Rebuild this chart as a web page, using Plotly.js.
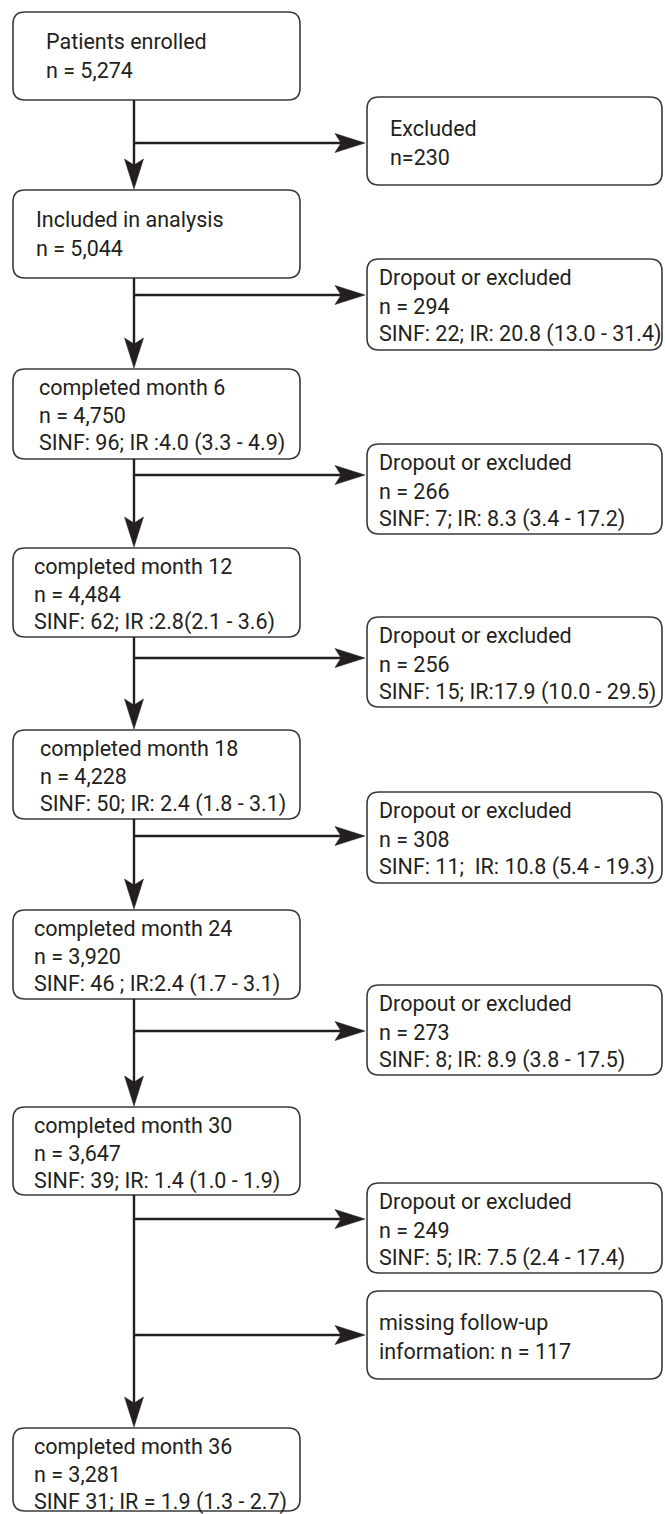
<!DOCTYPE html>
<html>
<head>
<meta charset="utf-8">
<script src="https://cdn.plot.ly/plotly-3.0.1.min.js"></script>
<style>
  html, body { margin: 0; padding: 0; background: #ffffff; }
  #chart { width: 665px; height: 1514px; }
</style>
</head>
<body>
<div id="chart"></div>
<script>
// ---------- data (texts) ----------
const stageLabels = ["Patients enrolled", "Included in analysis", "completed month 6", "completed month 12",
  "completed month 18", "completed month 24", "completed month 30", "completed month 36"];
const stageN = ["n = 5,274", "n = 5,044", "n = 4,750", "n = 4,484", "n = 4,228", "n = 3,920", "n = 3,647", "n = 3,281"];
const stageIR = ["", "", "SINF: 96; IR :4.0 (3.3 - 4.9)", "SINF: 62; IR :2.8(2.1 - 3.6)",
  "SINF: 50; IR: 2.4 (1.8 - 3.1)", "SINF: 46 ; IR:2.4 (1.7 - 3.1)", "SINF: 39; IR: 1.4 (1.0 - 1.9)",
  "SINF 31; IR = 1.9 (1.3 - 2.7)"];

const sideLabels = ["Excluded", "Dropout or excluded", "Dropout or excluded", "Dropout or excluded",
  "Dropout or excluded", "Dropout or excluded", "Dropout or excluded", "missing follow-up"];
const sideN = ["n=230", "n = 294", "n = 266", "n = 256", "n = 308", "n = 273", "n = 249", "information: n = 117"];
const sideIR = ["", "SINF: 22; IR: 20.8 (13.0 - 31.4)", "SINF: 7; IR: 8.3 (3.4 - 17.2)",
  "SINF: 15; IR:17.9 (10.0 - 29.5)", "SINF: 11;\u00a0 IR: 10.8 (5.4 - 19.3)", "SINF: 8; IR: 8.9 (3.8 - 17.5)",
  "SINF: 5; IR: 7.5 (2.4 - 17.4)", ""];
const sideFrom = [0, 1, 2, 3, 4, 5, 6, 6];   // which main box each side branch leaves from

// ---------- geometry (page pixels, y downward) ----------
const G = {
  W: 665, H: 1514,
  leftX0: 13, leftX1: 300, spineX: 134,
  rightX0: 367, rightX1: 662,
  radius: 12,
  leftTop:    [12, 190, 369, 548, 730, 910, 1107, 1428],
  leftBottom: [100, 278, 459, 637, 819, 999, 1195, 1511],
  leftTextX:  [44, 34, 37, 32, 38, 32, 32, 32],
  rightTop:    [97, 259, 444, 617, 792, 985, 1183, 1291],
  rightBottom: [185, 350, 534, 707, 883, 1075, 1273, 1379],
  rightTextX:  [388, 377, 377, 377, 377, 377, 377, 377],
  arrowY:      [143, 295, 475, 658, 836, 1031, 1219, 1335],
  leftTwoOff: [29, 58], leftThreeOff: [18, 46, 74],
  rightTwoOff: [31, 60], rightThreeOff: [18, 47, 75],
  headLen: 30, headHalf: 9.5, headNotch: 6
};
const INK = "#231f20";
const BORDER = "#3a3a3a";
const FONT = { family: "Roboto, 'Open Sans', sans-serif", size: 21.5, color: INK };

function roundRect(x0, y0, x1, y1, r) {
  return `M${x0 + r},${y0} L${x1 - r},${y0} Q${x1},${y0} ${x1},${y0 + r} L${x1},${y1 - r} Q${x1},${y1} ${x1 - r},${y1} ` +
         `L${x0 + r},${y1} Q${x0},${y1} ${x0},${y1 - r} L${x0},${y0 + r} Q${x0},${y0} ${x0 + r},${y0} Z`;
}
function headDown(x, tipY) {
  const L = G.headLen, h = G.headHalf, n = G.headNotch;
  return `M${x},${tipY} L${x - h},${tipY - L} L${x},${tipY - L + n} L${x + h},${tipY - L} Z`;
}
function headRight(tipX, y) {
  const L = G.headLen, h = G.headHalf, n = G.headNotch;
  return `M${tipX},${y} L${tipX - L},${y - h} L${tipX - L + n},${y} L${tipX - L},${y + h} Z`;
}

const shapes = [];
const annotations = [];
function addText(x, y, txt) {
  annotations.push({ x: x, y: y, xref: "x", yref: "y", text: txt, showarrow: false,
    xanchor: "left", yanchor: "middle", font: FONT });
}

// main boxes
stageLabels.forEach((lab, i) => {
  const y0 = G.leftTop[i], y1 = G.leftBottom[i];
  shapes.push({ type: "path", path: roundRect(G.leftX0, y0, G.leftX1, y1, G.radius),
    line: { color: BORDER, width: 1.6 }, fillcolor: "rgba(0,0,0,0)" });
  const lines = [lab, stageN[i]];
  if (stageIR[i]) lines.push(stageIR[i]);
  const offs = lines.length === 3 ? G.leftThreeOff : G.leftTwoOff;
  lines.forEach((t, k) => addText(G.leftTextX[i], y0 + offs[k], t));
  if (i < stageLabels.length - 1) {
    const tip = G.leftTop[i + 1] - 1;
    shapes.push({ type: "line", x0: G.spineX, x1: G.spineX, y0: y1, y1: tip - G.headLen + G.headNotch + 1,
      line: { color: INK, width: 2.4 } });
    shapes.push({ type: "path", path: headDown(G.spineX, tip), line: { color: INK, width: 0.5 }, fillcolor: INK });
  }
});

// side boxes
sideLabels.forEach((lab, j) => {
  const y0 = G.rightTop[j], y1 = G.rightBottom[j];
  shapes.push({ type: "path", path: roundRect(G.rightX0, y0, G.rightX1, y1, G.radius),
    line: { color: BORDER, width: 1.6 }, fillcolor: "rgba(0,0,0,0)" });
  const lines = [lab, sideN[j]];
  if (sideIR[j]) lines.push(sideIR[j]);
  const offs = lines.length === 3 ? G.rightThreeOff : G.rightTwoOff;
  lines.forEach((t, k) => addText(G.rightTextX[j], y0 + offs[k], t));
  const ay = G.arrowY[j];
  const tipX = G.rightX0 - 2;
  shapes.push({ type: "line", x0: G.spineX, x1: tipX - G.headLen + G.headNotch + 1, y0: ay, y1: ay,
    line: { color: INK, width: 2.4 } });
  shapes.push({ type: "path", path: headRight(tipX, ay), line: { color: INK, width: 0.5 }, fillcolor: INK });
});

const layout = {
  width: G.W, height: G.H,
  margin: { l: 0, r: 0, t: 0, b: 0 },
  paper_bgcolor: "#ffffff", plot_bgcolor: "#ffffff",
  showlegend: false,
  xaxis: { range: [0, G.W], visible: false, fixedrange: true },
  yaxis: { range: [G.H, 0], visible: false, fixedrange: true },
  shapes: shapes,
  annotations: annotations
};
Plotly.newPlot("chart", [], layout, { staticPlot: true, displayModeBar: false });
</script>
</body>
</html>
